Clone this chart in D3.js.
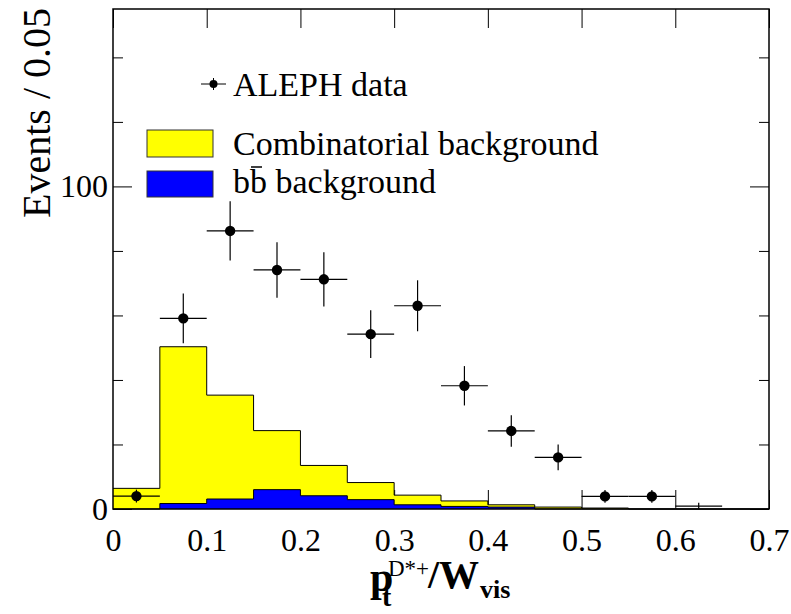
<!DOCTYPE html>
<html>
<head>
<meta charset="utf-8">
<script src="https://cdn.jsdelivr.net/npm/d3@7"></script>
<style>
  html, body { margin: 0; padding: 0; background: #fff; }
  svg { display: block; }
  text { font-family: "Liberation Serif", "Times New Roman", serif; fill: #000; }
</style>
</head>
<body>
<svg id="chart" width="791" height="614"></svg>
<script>
// ---------------- data ----------------
const binWidth = 0.05;
const binStarts = [0.00, 0.05, 0.10, 0.15, 0.20, 0.25, 0.30, 0.35, 0.40, 0.45, 0.50, 0.55, 0.60, 0.65];
const bbValues   = [0.0, 1.7, 3.1, 6.0, 4.1, 2.9, 1.3, 0.8, 0.6, 0.0, 0.0, 0.0, 0.0, 0.0];
const combValues = [6.4, 48.6, 32.2, 18.3, 9.4, 5.3, 3.0, 1.7, 0.7, 0.6, 0.3, 0.0, 0.0, 0.0];

const dataX      = [0.025, 0.075, 0.125, 0.175, 0.225, 0.275, 0.325, 0.375, 0.425, 0.475, 0.525, 0.575, 0.625];
const dataValues = [4.0, 59.1, 86.2, 74.1, 71.2, 54.2, 63.0, 38.2, 24.2, 16.0, 3.9, 3.9, 0.9];
const dataErrors = [2.0, 7.7, 9.2, 8.6, 8.4, 7.4, 7.9, 6.1, 4.9, 4.0, 2.0, 2.0, 1.0];

const xTickValues = [0, 0.1, 0.2, 0.3, 0.4, 0.5, 0.6, 0.7];
const xTickLabels = ["0", "0.1", "0.2", "0.3", "0.4", "0.5", "0.6", "0.7"];
const yMajorTicks = [0, 100];
const yMinorTicks = [20, 40, 60, 80, 120, 140];

const legendLabels = ["ALEPH data", "Combinatorial background", "bb background"];
const seriesColors = { comb: "#ffff00", bb: "#0000ff" };

// ---------------- layout ----------------
const svg = d3.select("#chart");
const pL = 113, pR = 769, pT = 9, pB = 509;
const x = d3.scaleLinear().domain([0, 0.7]).range([pL, pR]);
const y = d3.scaleLinear().domain([0, 155]).range([pB, pT]);
const FONT = '"Liberation Serif", "Times New Roman", serif';

// ---------------- axes (ticks under the histograms) ----------------
function styleAxis(g) {
  g.select(".domain").remove();
  g.selectAll(".tick line").attr("stroke", "#000").attr("stroke-width", 1);
  g.selectAll(".tick text").attr("font-family", FONT).style("font-family", FONT)
    .style("font-size", "32px").attr("fill", "#000");
}

svg.append("g").attr("transform", `translate(0,${pB})`)
  .call(d3.axisBottom(x).tickValues(xTickValues).tickFormat((d, i) => xTickLabels[i]).tickSize(-19).tickPadding(19))
  .call(styleAxis);
svg.append("g").attr("transform", `translate(0,${pT})`)
  .call(d3.axisTop(x).tickValues(xTickValues).tickFormat("").tickSize(-19))
  .call(styleAxis);
svg.append("g").attr("transform", `translate(${pL},0)`)
  .call(d3.axisLeft(y).tickValues(yMajorTicks).tickFormat(d3.format("d")).tickSize(-19).tickPadding(5))
  .call(styleAxis);
svg.append("g").attr("transform", `translate(${pL},0)`)
  .call(d3.axisLeft(y).tickValues(yMinorTicks).tickFormat("").tickSize(-10))
  .call(styleAxis);
svg.append("g").attr("transform", `translate(${pR},0)`)
  .call(d3.axisRight(y).tickValues(yMajorTicks).tickFormat("").tickSize(-19))
  .call(styleAxis);
svg.append("g").attr("transform", `translate(${pR},0)`)
  .call(d3.axisRight(y).tickValues(yMinorTicks).tickFormat("").tickSize(-10))
  .call(styleAxis);

// ---------------- stacked histogram ----------------
const rows = binStarts.map((b, i) => ({ x0: b, bb: bbValues[i], comb: combValues[i] }));
const stack = d3.stack().keys(["bb", "comb"]);
const layers = stack(rows);

function stepPoints(layer) {
  const p = layer.map(d => [d.data.x0, d[1]]);
  const last = layer[layer.length - 1];
  p.push([last.data.x0 + binWidth, last[1]]);
  return p;
}

const area = d3.area()
  .curve(d3.curveStepAfter)
  .x(d => x(d[0])).y0(y(0)).y1(d => y(d[1]));
const outline = d3.line()
  .curve(d3.curveStepAfter)
  .x(d => x(d[0])).y(d => y(d[1]));

const totalPts = stepPoints(layers[1]);
const bbPts = stepPoints(layers[0]);

svg.append("path").attr("d", area(totalPts)).attr("fill", seriesColors.comb);
svg.append("path").attr("d", outline(totalPts)).attr("fill", "none").attr("stroke", "#000").attr("stroke-width", 1);
svg.append("path").attr("d", area(bbPts)).attr("fill", seriesColors.bb);
svg.append("path").attr("d", outline(bbPts)).attr("fill", "none").attr("stroke", "#000").attr("stroke-width", 1);

// frame
svg.append("rect").attr("x", pL).attr("y", pT).attr("width", pR - pL).attr("height", pB - pT)
  .attr("fill", "none").attr("stroke", "#000").attr("stroke-width", 1.5);

// ---------------- data points ----------------
const pts = svg.append("g");
dataX.forEach((cx, i) => {
  const v = dataValues[i], e = dataErrors[i];
  pts.append("line").attr("x1", x(cx - binWidth / 2)).attr("x2", x(cx + binWidth / 2))
    .attr("y1", y(v)).attr("y2", y(v)).attr("stroke", "#000").attr("stroke-width", 1.2);
  pts.append("line").attr("x1", x(cx)).attr("x2", x(cx))
    .attr("y1", y(v - e)).attr("y2", y(v + e)).attr("stroke", "#000").attr("stroke-width", 1.2);
  if (v >= 1) {
    pts.append("circle").attr("cx", x(cx)).attr("cy", y(v)).attr("r", 5.2).attr("fill", "#000");
  }
});

// ---------------- legend ----------------
const lg = svg.append("g");
lg.append("line").attr("x1", 201).attr("x2", 226).attr("y1", 84).attr("y2", 84).attr("stroke", "#000");
lg.append("line").attr("x1", 213.5).attr("x2", 213.5).attr("y1", 78).attr("y2", 90).attr("stroke", "#000");
lg.append("circle").attr("cx", 213.5).attr("cy", 84).attr("r", 4).attr("fill", "#000");
lg.append("text").attr("x", 233).attr("y", 96).attr("font-family", FONT).style("font-size", "34px").text(legendLabels[0]);

lg.append("rect").attr("x", 147).attr("y", 130).attr("width", 66).attr("height", 27)
  .attr("fill", seriesColors.comb).attr("stroke", "#333").attr("stroke-width", 1);
lg.append("text").attr("x", 233).attr("y", 155).attr("font-family", FONT).style("font-size", "34px").text(legendLabels[1]);

lg.append("rect").attr("x", 147).attr("y", 171).attr("width", 66).attr("height", 26)
  .attr("fill", seriesColors.bb).attr("stroke", "#333").attr("stroke-width", 1);
lg.append("text").attr("x", 233).attr("y", 193).attr("font-family", FONT).style("font-size", "34px").text(legendLabels[2]);
lg.append("line").attr("x1", 251).attr("x2", 262).attr("y1", 167).attr("y2", 167).attr("stroke", "#000").attr("stroke-width", 1.5);

// ---------------- axis titles ----------------
svg.append("text")
  .attr("transform", "translate(50,8) rotate(-90)")
  .attr("text-anchor", "end")
  .attr("font-family", FONT)
  .style("font-size", "40px")
  .text("Events / 0.05");

const xt = svg.append("text").attr("font-family", FONT).style("font-weight", "bold");
xt.append("tspan").attr("x", 370).attr("y", 591).style("font-size", "42px").text("p");
xt.append("tspan").attr("x", 382).attr("y", 606).style("font-size", "28px").text("t");
xt.append("tspan").attr("x", 388).attr("y", 576).style("font-size", "23px").style("font-weight", "normal").text("D*+");
xt.append("tspan").attr("x", 428).attr("y", 588).style("font-size", "40px").text("/W");
xt.append("tspan").attr("x", 480).attr("y", 598).style("font-size", "26px").text("vis");
</script>
</body>
</html>
